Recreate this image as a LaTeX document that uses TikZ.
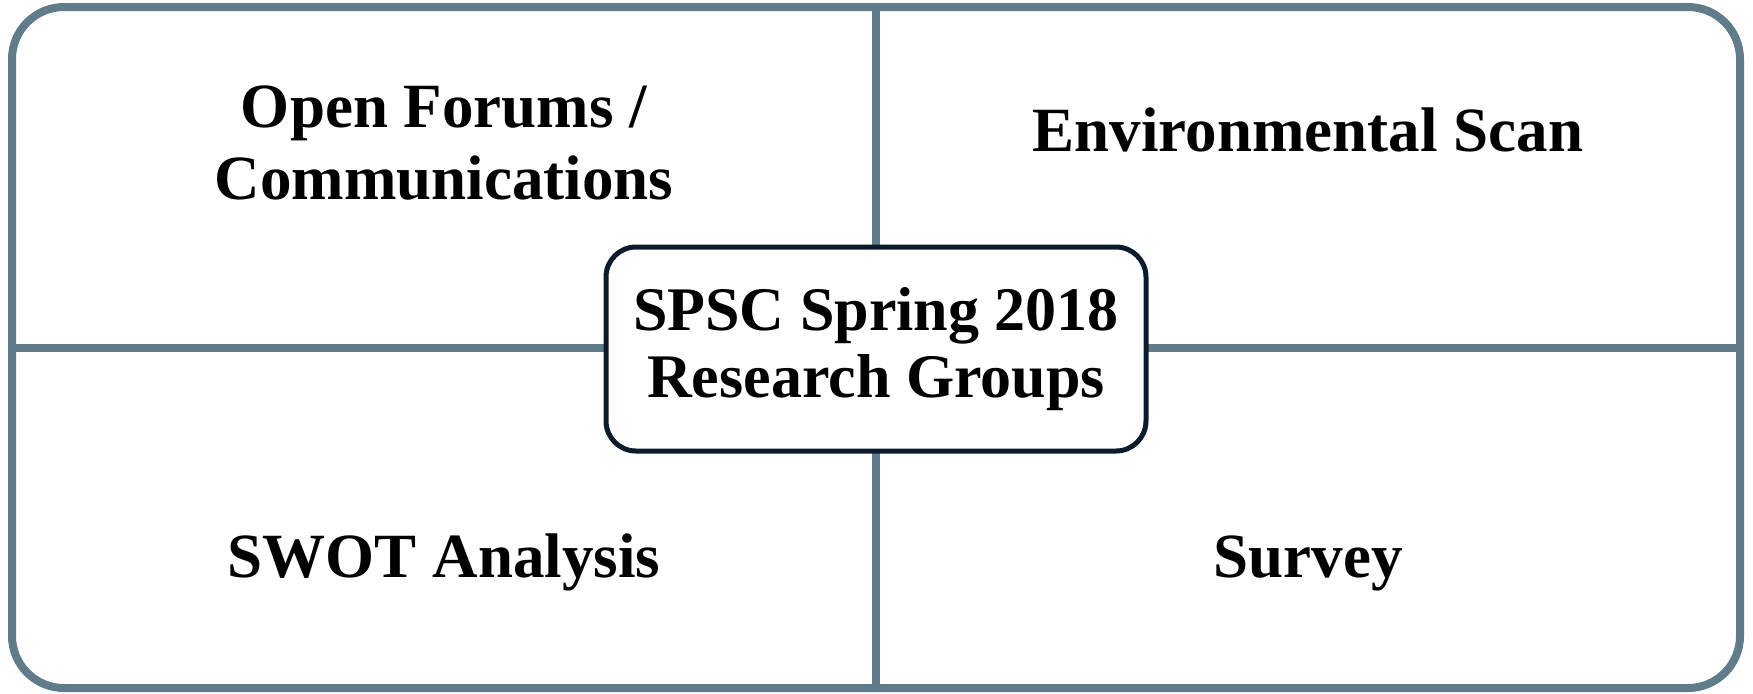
\documentclass[tikz,border=0pt]{standalone}
\usepackage{fontspec}
\setmainfont{Liberation Serif}
\usetikzlibrary{shadows}
\definecolor{slate}{HTML}{607B8A}
\definecolor{navy}{HTML}{0B1B2B}
\begin{document}
\begin{tikzpicture}[x=0.5pt,y=-0.5pt,
  frame/.style={draw=slate, fill=white, line width=4pt, rounded corners=26pt,
    minimum width=864pt, minimum height=340.5pt, inner sep=0pt,
    drop shadow={shadow xshift=0.8pt, shadow yshift=-0.8pt, opacity=0.25, fill=black!60}},
  divider/.style={draw=slate, line width=4pt},
  hub/.style={draw=navy, fill=white, line width=2.5pt, rounded corners=15pt,
    minimum width=270pt, minimum height=102pt, inner sep=0pt, align=center,
    font=\fontsize{31}{33.5}\selectfont\bfseries},
  grouptext/.style={font=\fontsize{31.5}{36}\selectfont\bfseries, align=center, inner sep=0pt}]
\useasboundingbox (0,0) rectangle (1753,693);
\node[frame] (outer) at (876,347.5) {};
\draw[divider] (outer.north) -- (outer.south);
\draw[divider] (outer.west) -- (outer.east);
\node[grouptext, anchor=center] (forums) at (444,143) {Open Forums /\\Communications};
\node[grouptext, anchor=base] (scan) at (1308,151) {Environmental Scan};
\node[grouptext, anchor=base] (swot) at (444,577) {SWOT Analysis};
\node[grouptext, anchor=base] (survey) at (1308,577) {Survey};
\node[hub] (hubnode) at (876,349) {SPSC Spring 2018\\Research Groups};
\end{tikzpicture}
\end{document}
